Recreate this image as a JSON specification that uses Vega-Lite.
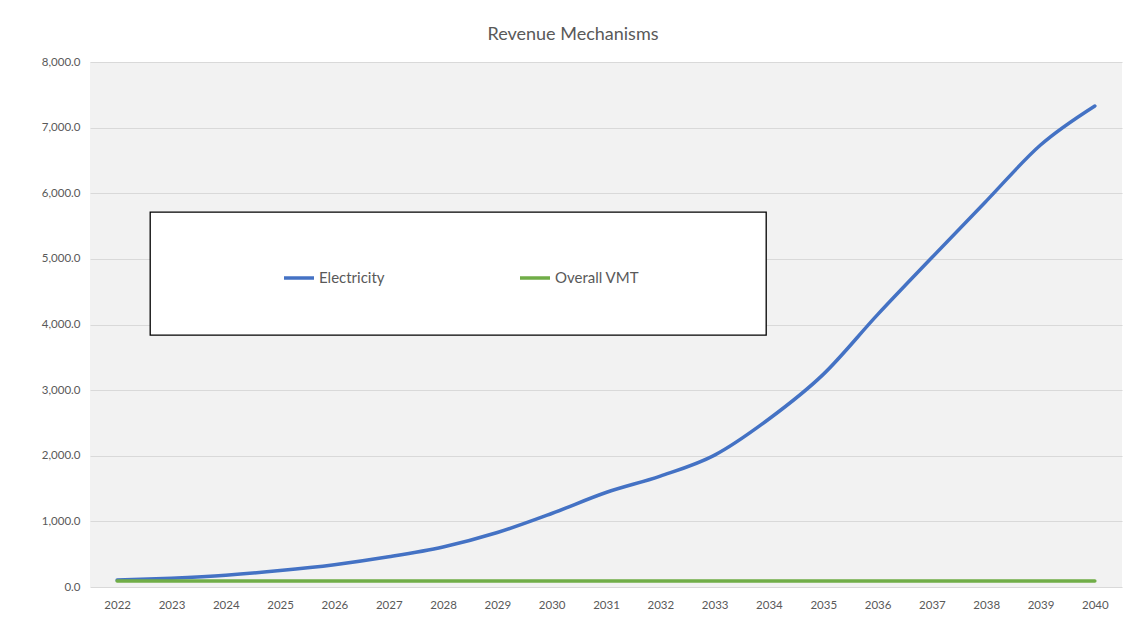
{
  "$schema": "https://vega.github.io/schema/vega-lite/v6.json",
  "width": 1032,
  "height": 525,
  "autosize": {"type": "none"},
  "padding": {"left": 90, "top": 62, "right": 4, "bottom": 38},
  "background": "white",
  "title": {
    "text": "Revenue Mechanisms",
    "font": "Lato",
    "fontSize": 18,
    "fontWeight": "normal",
    "color": "#595959",
    "anchor": "middle",
    "dx": -33,
    "offset": 12
  },
  "config": {
    "view": {"fill": "#f2f2f2", "stroke": null},
    "font": "Lato"
  },
  "data": {
    "values": [
      {"year": "2022", "series": "Electricity", "value": 105},
      {"year": "2023", "series": "Electricity", "value": 135},
      {"year": "2024", "series": "Electricity", "value": 180},
      {"year": "2025", "series": "Electricity", "value": 250},
      {"year": "2026", "series": "Electricity", "value": 340},
      {"year": "2027", "series": "Electricity", "value": 460},
      {"year": "2028", "series": "Electricity", "value": 610},
      {"year": "2029", "series": "Electricity", "value": 830},
      {"year": "2030", "series": "Electricity", "value": 1120},
      {"year": "2031", "series": "Electricity", "value": 1440},
      {"year": "2032", "series": "Electricity", "value": 1690},
      {"year": "2033", "series": "Electricity", "value": 2010},
      {"year": "2034", "series": "Electricity", "value": 2560},
      {"year": "2035", "series": "Electricity", "value": 3240},
      {"year": "2036", "series": "Electricity", "value": 4150},
      {"year": "2037", "series": "Electricity", "value": 5020},
      {"year": "2038", "series": "Electricity", "value": 5880},
      {"year": "2039", "series": "Electricity", "value": 6735},
      {"year": "2040", "series": "Electricity", "value": 7330},
      {"year": "2022", "series": "Overall VMT", "value": 92},
      {"year": "2023", "series": "Overall VMT", "value": 93},
      {"year": "2024", "series": "Overall VMT", "value": 93},
      {"year": "2025", "series": "Overall VMT", "value": 93},
      {"year": "2026", "series": "Overall VMT", "value": 93},
      {"year": "2027", "series": "Overall VMT", "value": 93},
      {"year": "2028", "series": "Overall VMT", "value": 93},
      {"year": "2029", "series": "Overall VMT", "value": 93},
      {"year": "2030", "series": "Overall VMT", "value": 93},
      {"year": "2031", "series": "Overall VMT", "value": 93},
      {"year": "2032", "series": "Overall VMT", "value": 93},
      {"year": "2033", "series": "Overall VMT", "value": 93},
      {"year": "2034", "series": "Overall VMT", "value": 93},
      {"year": "2035", "series": "Overall VMT", "value": 93},
      {"year": "2036", "series": "Overall VMT", "value": 93},
      {"year": "2037", "series": "Overall VMT", "value": 93},
      {"year": "2038", "series": "Overall VMT", "value": 93},
      {"year": "2039", "series": "Overall VMT", "value": 93},
      {"year": "2040", "series": "Overall VMT", "value": 93}
    ]
  },
  "mark": {"type": "line", "strokeWidth": 3.5, "interpolate": "monotone", "strokeCap": "round"},
  "encoding": {
    "x": {
      "field": "year",
      "type": "ordinal",
      "scale": {"type": "point", "padding": 0.5},
      "axis": {
        "title": null,
        "labelAngle": 0,
        "ticks": false,
        "domain": false,
        "labelPadding": 12,
        "labelFontSize": 11.5,
        "labelColor": "#595959",
        "labelFont": "Lato"
      }
    },
    "y": {
      "field": "value",
      "type": "quantitative",
      "scale": {"domain": [0, 8000], "nice": false},
      "axis": {
        "title": null,
        "values": [0, 1000, 2000, 3000, 4000, 5000, 6000, 7000, 8000],
        "format": ",.1f",
        "ticks": false,
        "domain": false,
        "grid": true,
        "gridColor": "#d9d9d9",
        "gridWidth": 1.2,
        "labelPadding": 10,
        "labelFontSize": 11.5,
        "labelColor": "#595959",
        "labelFont": "Lato"
      }
    },
    "color": {
      "field": "series",
      "type": "nominal",
      "scale": {"domain": ["Electricity", "Overall VMT"], "range": ["#4472C4", "#70AD47"]},
      "legend": {
        "title": null,
        "orient": "none",
        "legendX": 60,
        "legendY": 150,
        "direction": "horizontal",
        "fillColor": "white",
        "strokeColor": "black",
        "padding": 49,
        "symbolType": "stroke",
        "symbolSize": 900,
        "symbolStrokeWidth": 3.5,
        "symbolOffset": 83,
        "labelOffset": 3,
        "labelFontSize": 15,
        "labelLimit": 1000,
        "labelColor": "#595959",
        "labelFont": "Lato",
        "columnPadding": 50,
        "labelExpr": "datum.label == 'Overall VMT' ? datum.label + '\u2800\u2800\u2800\u2800\u2800\u2800\u2800' : datum.label",
        "encode": {"legend": {"update": {"strokeWidth": {"value": 1.3}}}}
      }
    }
  }
}
